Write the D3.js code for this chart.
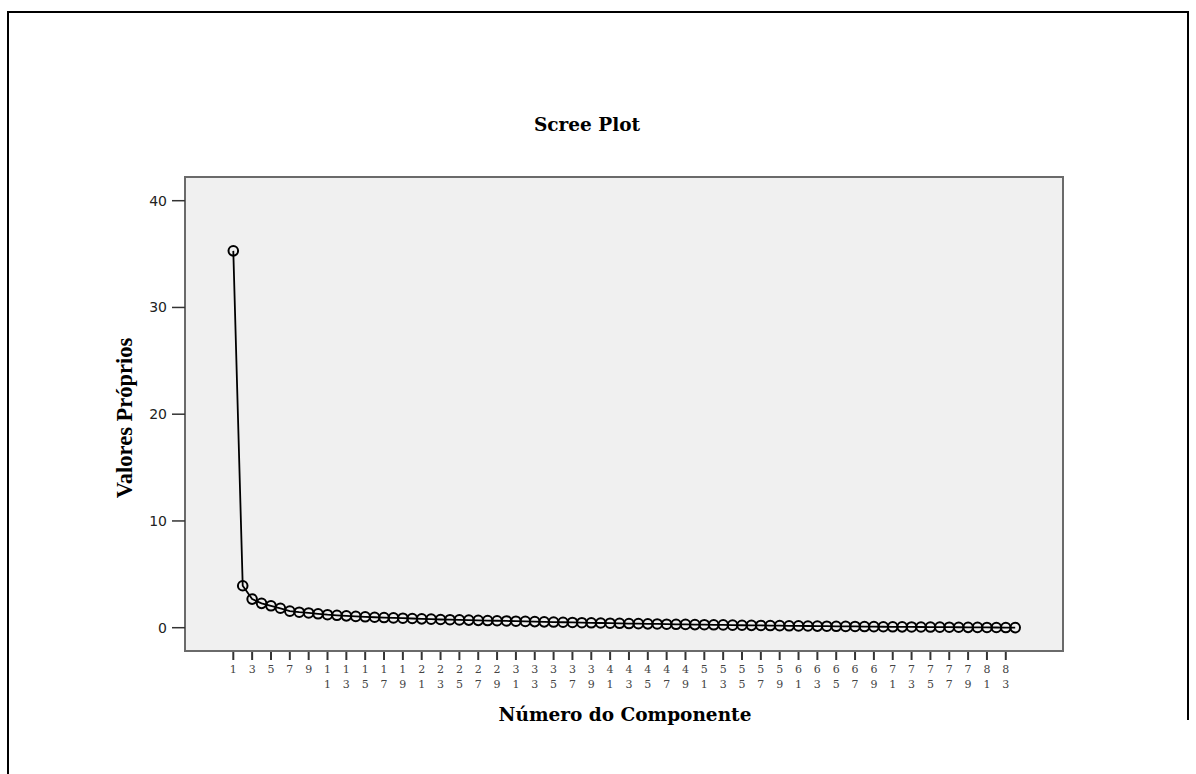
<!DOCTYPE html>
<html>
<head>
<meta charset="utf-8">
<script src="https://cdn.jsdelivr.net/npm/d3@7"></script>
<style>
  body { margin: 0; background: #fff; }
  svg { display: block; }
</style>
</head>
<body>
<svg id="chart"></svg>
<script>
// eigenvalues, component 1..84
const components = d3.range(1, 85)
const eigenvalues = [
  35.3, 3.93, 2.68, 2.28, 2.05, 1.82, 1.55, 1.45, 1.38, 1.3,
  1.22, 1.16, 1.11, 1.06, 1.02, 0.98, 0.95, 0.92, 0.89, 0.86,
  0.83, 0.8, 0.77, 0.75, 0.73, 0.71, 0.69, 0.67, 0.65, 0.63,
  0.61, 0.59, 0.57, 0.55, 0.53, 0.51, 0.49, 0.47, 0.46, 0.44,
  0.42, 0.41, 0.39, 0.38, 0.36, 0.35, 0.33, 0.32, 0.31, 0.29,
  0.28, 0.27, 0.26, 0.24, 0.23, 0.22, 0.21, 0.2, 0.19, 0.18,
  0.17, 0.16, 0.15, 0.14, 0.13, 0.12, 0.115, 0.11, 0.1, 0.09,
  0.085, 0.08, 0.07, 0.065, 0.06, 0.05, 0.045, 0.04, 0.035, 0.03,
  0.025, 0.02, 0.015, 0.01
]
const yTicks = [0, 10, 20, 30, 40]
const xTicks = d3.range(1, 84, 2)

const width = 1196
const height = 774
// plot frame
const frame = { left: 185, top: 177, right: 1063, bottom: 651 }

const svg = d3.select("#chart").attr("width", width).attr("height", height)

// outer page border (top, left, right)
svg
  .append("path")
  .attr("d", `M8,774 L8,12 L1188,12 L1188,720`)
  .attr("fill", "none")
  .attr("stroke", "#000")
  .attr("stroke-width", 2)

const x = d3.scaleLinear().domain([1, 84]).range([233.3, 1015.2])
const y = d3.scaleLinear().domain([0, 40]).range([627.7, 200.7])

// grey plot area
svg
  .append("rect")
  .attr("x", frame.left)
  .attr("y", frame.top)
  .attr("width", frame.right - frame.left)
  .attr("height", frame.bottom - frame.top)
  .attr("fill", "#f0f0f0")
  .attr("stroke", "#6a6a6a")
  .attr("stroke-width", 2)

// y axis ticks & labels
const yAxis = svg.append("g").attr("class", "y axis")
yAxis
  .selectAll("line")
  .data(yTicks)
  .join("line")
  .attr("x1", frame.left - 13)
  .attr("x2", frame.left)
  .attr("y1", (d) => y(d))
  .attr("y2", (d) => y(d))
  .attr("stroke", "#333")
  .attr("stroke-width", 1.5)
yAxis
  .selectAll("text")
  .data(yTicks)
  .join("text")
  .attr("x", frame.left - 18)
  .attr("y", (d) => y(d))
  .attr("dy", "0.36em")
  .attr("text-anchor", "end")
  .attr("font-family", "DejaVu Sans")
  .attr("font-size", 14)
  .attr("fill", "#222")
  .text((d) => d)

// x axis ticks, labels written one digit per line
const xAxis = svg.append("g").attr("class", "x axis")
xAxis
  .selectAll("line")
  .data(xTicks)
  .join("line")
  .attr("x1", (d) => x(d))
  .attr("x2", (d) => x(d))
  .attr("y1", frame.bottom + 1)
  .attr("y2", frame.bottom + 9)
  .attr("stroke", "#333")
  .attr("stroke-width", 2)
const xLabels = xAxis
  .selectAll("text")
  .data(xTicks)
  .join("text")
  .attr("text-anchor", "middle")
  .attr("font-family", "DejaVu Serif")
  .attr("font-size", 11)
  .attr("fill", "#444")
xLabels
  .selectAll("tspan")
  .data((d) => String(d).split("").map((c) => ({ c, v: d })))
  .join("tspan")
  .attr("x", (d) => x(d.v))
  .attr("y", (d, i) => 673 + i * 15)
  .text((d) => d.c)

// scree line
const line = d3
  .line()
  .x((d, i) => x(components[i]))
  .y((d) => y(d))
svg
  .append("path")
  .datum(eigenvalues)
  .attr("d", line)
  .attr("fill", "none")
  .attr("stroke", "#000")
  .attr("stroke-width", 1.8)

// circle markers
svg
  .append("g")
  .selectAll("circle")
  .data(eigenvalues)
  .join("circle")
  .attr("cx", (d, i) => x(components[i]))
  .attr("cy", (d) => y(d))
  .attr("r", 4.8)
  .attr("fill", "none")
  .attr("stroke", "#000")
  .attr("stroke-width", 2)

// titles
svg
  .append("text")
  .attr("x", 587)
  .attr("y", 131)
  .attr("text-anchor", "middle")
  .attr("font-family", "DejaVu Serif")
  .attr("font-weight", "bold")
  .attr("font-size", 18.5)
  .text("Scree Plot")

svg
  .append("text")
  .attr("x", 625)
  .attr("y", 721)
  .attr("text-anchor", "middle")
  .attr("font-family", "DejaVu Serif")
  .attr("font-weight", "bold")
  .attr("font-size", 18.5)
  .text("Número do Componente")

svg
  .append("text")
  .attr("transform", "translate(132, 418) rotate(-90)")
  .attr("text-anchor", "middle")
  .attr("font-family", "Liberation Serif")
  .attr("font-weight", "bold")
  .attr("font-size", 22.5)
  .text("Valores Próprios")
</script>
</body>
</html>
